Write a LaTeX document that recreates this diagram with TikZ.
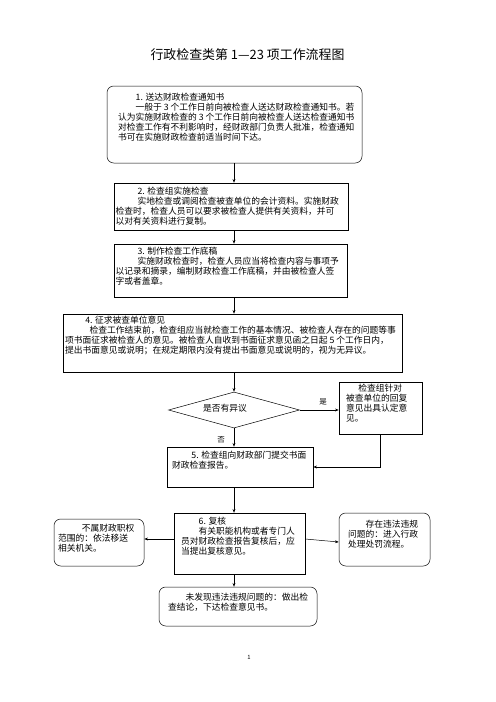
\documentclass[tikz,border=0pt]{standalone}
\usepackage{fontspec}
\setmainfont{Noto Sans CJK SC}
\usetikzlibrary{arrows.meta,shapes.geometric}

\tikzset{
  frame/.style={draw,line width=0.6pt,rectangle,inner sep=0pt},
  roundframe/.style={frame,rounded corners=8pt},
  txt/.style={anchor=north west,inner sep=0pt,align=left,font=\fontsize{10.5}{12}\selectfont},
  flow/.style={-{Stealth[length=4.5pt,width=3.5pt]},line width=0.6pt},
}

\begin{document}
\begin{tikzpicture}[x=1.2pt,y=-1.2pt]
		%%%%% START %%%%%
		\useasboundingbox[fill=white] (0,0) rectangle (496,702);
		\coordinate (axis) at (234,0);
		
		\node (title) at (247.5,55) {\fontsize{15.5}{18}\selectfont 行政检查类第 1—23 项工作流程图};
		
		\node[roundframe,minimum width=306pt,minimum height=92.4pt] (b1) at (234.5,124.5) {};
		\node[txt] (t1) at (118,93) {\hspace*{2em}1. 送达财政检查通知书\\
\hspace*{2em}一般于 3 个工作日前向被检查人送达财政检查通知书。若\\
认为实施财政检查的 3 个工作日前向被检查人送达检查通知书\\
对检查工作有不利影响时，经财政部门负责人批准，检查通知\\
书可在实施财政检查前适当时间下达。};
		
		\node[frame,minimum width=280.8pt,minimum height=56.4pt] (b2) at (231,206.5) {};
		\node[txt] (t2) at (115.5,187) {\hspace*{2.5em}2. 检查组实施检查\\
\hspace*{2.5em}实地检查或调阅检查被查单位的会计资料。实施财政\\
检查时，检查人员可以要求被检查人提供有关资料，并可\\
以对有关资料进行复制。};
		
		\node[frame,minimum width=279.6pt,minimum height=63.6pt] (b3) at (230.5,270.5) {};
		\node[txt] (t3) at (115.5,247) {\hspace*{2.5em}3. 制作检查工作底稿\\
\hspace*{2.5em}实施财政检查时，检查人员应当将检查内容与事项予\\
以记录和摘录，编制财政检查工作底稿，并由被检查人签\\
字或者盖章。};
		
		\node[frame,minimum width=406.8pt,minimum height=69.6pt] (b4) at (232.5,343) {};
		\node[txt] (t4) at (65,315.5) {\hspace*{2.3em}4. 征求被查单位意见\\
\hspace*{2.8em}检查工作结束前，检查组应当就检查工作的基本情况、被检查人存在的问题等事\\
项书面征求被检查人的意见。被检查人自收到书面征求意见函之日起 5 个工作日内，\\
提出书面意见或说明；在规定期限内没有提出书面意见或说明的，视为无异议。};
		
		\node[draw,line width=0.6pt,diamond,inner sep=0pt,minimum width=157.2pt,minimum height=43.2pt] (d) at (234,410) {};
		\node (dtxt) at (225,408) {\fontsize{10.5}{12}\selectfont 是否有异议};
		
		\node[frame,minimum width=99.6pt,minimum height=62.4pt] (rb) at (380.5,408) {};
		\node[txt] (trb) at (346,384) {\hspace*{1.4em}检查组针对\\
被查单位的回复\\
意见出具认定意\\
见。};
		
		\node[frame,minimum width=175.2pt,minimum height=48pt] (b5) at (240,467) {};
		\node[txt] (t5) at (172,451) {\hspace*{2.2em}5. 检查组向财政部门提交书面\\
财政检查报告。};
		
		\node[frame,minimum width=157.2pt,minimum height=73.2pt] (b6) at (239.5,543.5) {};
		\node[txt] (t6) at (181,517) {\hspace*{2em}6. 复核\\
\hspace*{2em}有关职能机构或者专门人\\
员对财政检查报告复核后，应\\
当提出复核意见。};
		
		\node[roundframe,minimum width=108pt,minimum height=56.4pt] (lb) at (99,542.5) {};
		\node[txt] (tlb) at (58,524) {\hspace*{2.7em}不属财政职权\\
范围的：依法移送\\
相关机关。};
		
		\node[roundframe,minimum width=109.2pt,minimum height=63.6pt] (rb2) at (384.5,539.5) {};
		\node[txt] (trb2) at (348,520) {\hspace*{2em}存在违法违规\\
问题的：进入行政\\
处理处罚流程。};
		
		\node[roundframe,minimum width=189.6pt,minimum height=46.8pt] (bb) at (238,606.5) {};
		\node[txt] (tbb) at (168,593) {\hspace*{2em}未发现违法违规问题的：做出检\\
查结论，下达检查意见书。};
		
		\node (yes) at (323,402) {\fontsize{9}{10}\selectfont 是};
		\node (no) at (221,440) {\fontsize{9}{10}\selectfont 否};
		
		\draw[flow] (b1.south -| axis) -- (b2.north -| axis);
		\draw[flow] (b2.south -| axis) -- (b3.north -| axis);
		\draw[flow] (b3.south -| axis) -- (b4.north -| axis);
		\draw[flow] (b4.south -| axis) -- (d.north);
		\draw[flow] (d.east) -- (rb.west |- d.east);
		\draw[flow] (d.south) -- (b5.north -| d.south);
		\draw[flow] (rb.south) |- (b5.east);
		\draw[flow] (b5.south -| axis) -- (b6.north -| axis);
		\draw[flow] ([yshift=5.4pt]b6.west) -- ([yshift=5.4pt]b6.west -| lb.east);
		\draw[flow] ([yshift=5.4pt]b6.east) -- ([yshift=-3pt]rb2.west);
		\draw[flow] (b6.south -| axis) -- (bb.north -| axis);
		
		\node (page) at (249,657) {\fontsize{7}{8}\selectfont 1};
		%%%%% END %%%%%
\end{tikzpicture}
\end{document}
